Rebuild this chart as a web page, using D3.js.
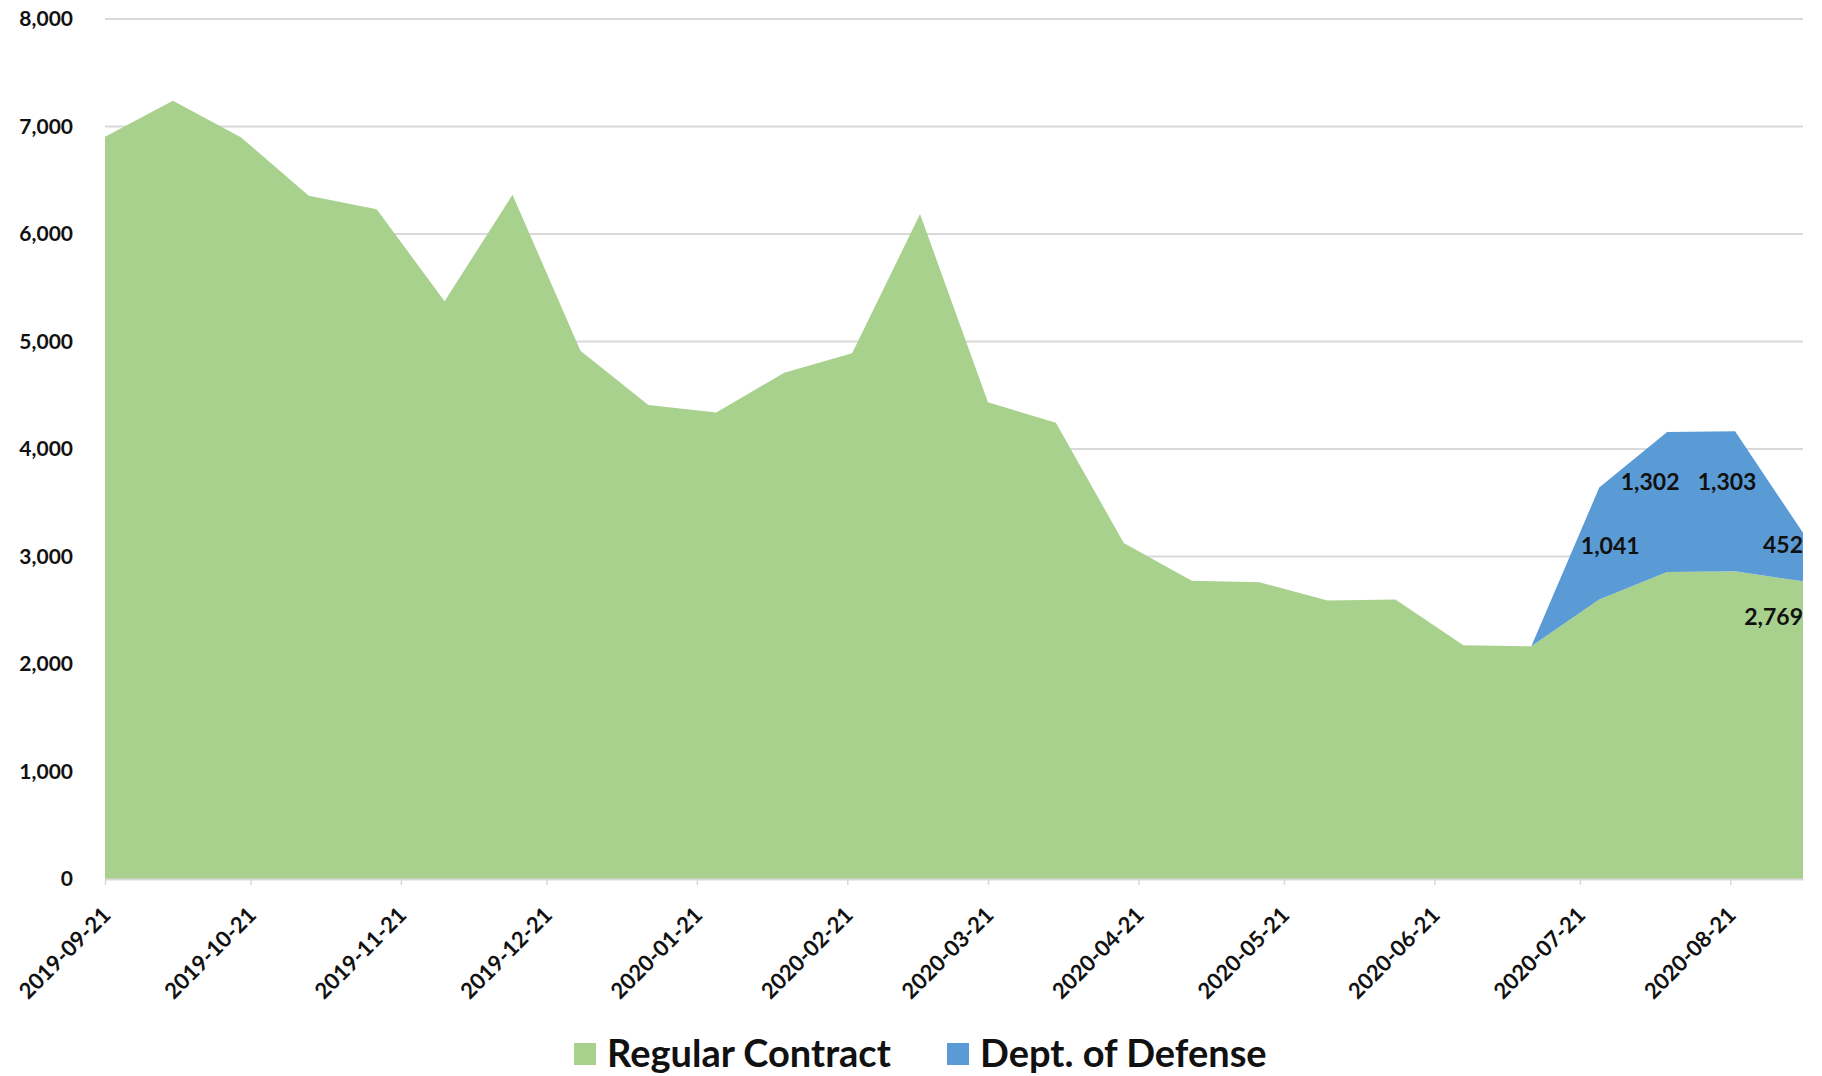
<!DOCTYPE html>
<html>
<head>
<meta charset="utf-8">
<script src="https://cdn.jsdelivr.net/npm/d3@7"></script>
<style>
  html, body { margin: 0; padding: 0; background: #ffffff; }
  svg { display: block; font-family: Lato, "Open Sans", sans-serif; }
</style>
</head>
<body>
<svg id="chart" width="1822" height="1076"></svg>
<script>
// Biweekly observation dates
const dates = [
  "2019-09-21", "2019-10-05", "2019-10-19", "2019-11-02", "2019-11-16", "2019-11-30",
  "2019-12-14", "2019-12-28", "2020-01-11", "2020-01-25", "2020-02-08", "2020-02-22",
  "2020-03-07", "2020-03-21", "2020-04-04", "2020-04-18", "2020-05-02", "2020-05-16",
  "2020-05-30", "2020-06-13", "2020-06-27", "2020-07-11", "2020-07-25", "2020-08-08",
  "2020-08-22", "2020-09-05"
];

// Series values
const regularContract = [
  6905, 7240, 6900, 6355, 6230, 5375, 6365, 4915, 4410, 4340, 4710, 4890,
  6185, 4435, 4245, 3125, 2775, 2760, 2590, 2600, 2175, 2165, 2600, 2855,
  2862, 2769
];
const deptOfDefense = [
  0, 0, 0, 0, 0, 0, 0, 0, 0, 0, 0, 0,
  0, 0, 0, 0, 0, 0, 0, 0, 0, 0, 1041, 1302,
  1303, 452
];

const seriesNames = ["Regular Contract", "Dept. of Defense"];
const seriesColors = ["#a9d18e", "#5b9bd5"];

// Axis ticks
const xTickLabels = [
  "2019-09-21", "2019-10-21", "2019-11-21", "2019-12-21", "2020-01-21", "2020-02-21",
  "2020-03-21", "2020-04-21", "2020-05-21", "2020-06-21", "2020-07-21", "2020-08-21"
];
const yTickValues = [0, 1000, 2000, 3000, 4000, 5000, 6000, 7000, 8000];

// Which points carry a value label (series index, point index)
const labelledPoints = [
  { s: 1, i: 22 }, { s: 1, i: 23 }, { s: 1, i: 24 }, { s: 1, i: 25 }, { s: 0, i: 25 }
];
// Label placement relative to the top of the band at that point
const labelPlacement = [
  { dx: 11, dy: 58, anchor: "middle" },
  { dx: -17, dy: 50, anchor: "middle" },
  { dx: -8, dy: 51, anchor: "middle" },
  { dx: 0, dy: 12, anchor: "end" },
  { dx: 0, dy: 36, anchor: "end" }
];

const parse = d3.utcParse("%Y-%m-%d");
const fmt = d3.format(",");

const margin = { left: 105, right: 19, top: 19, bottom: 197 };
const W = 1822, H = 1076;
const svg = d3.select("#chart");

const rows = dates.map((d, i) => ({
  date: parse(d),
  "Regular Contract": regularContract[i],
  "Dept. of Defense": deptOfDefense[i]
}));

const x = d3.scaleUtc()
  .domain(d3.extent(rows, r => r.date))
  .range([margin.left, W - margin.right]);
const y = d3.scaleLinear()
  .domain([0, 8000])
  .range([H - margin.bottom, margin.top]);

const stacked = d3.stack().keys(seriesNames)(rows);

// Gridlines
svg.append("g")
  .selectAll("line")
  .data(yTickValues.filter(v => v > 0))
  .join("line")
  .attr("x1", x.range()[0])
  .attr("x2", x.range()[1])
  .attr("y1", d => y(d))
  .attr("y2", d => y(d))
  .attr("stroke", "#d9d9d9")
  .attr("stroke-width", 2);

// Stacked areas
const area = d3.area()
  .x(d => x(d.data.date))
  .y0(d => y(d[0]))
  .y1(d => y(d[1]));

svg.append("g")
  .selectAll("path")
  .data(stacked)
  .join("path")
  .attr("d", area)
  .attr("fill", (d, i) => seriesColors[i]);

// X axis
const xAxis = d3.axisBottom(x)
  .tickValues(xTickLabels.map(parse))
  .tickFormat(d3.utcFormat("%Y-%m-%d"))
  .tickSize(6)
  .tickSizeOuter(0);

const gx = svg.append("g")
  .attr("transform", `translate(0,${y(0)})`)
  .call(xAxis);
gx.select(".domain").attr("stroke", "#d9d9d9").attr("stroke-width", 2);
gx.selectAll(".tick line").attr("stroke", "#d9d9d9").attr("stroke-width", 1.5);
gx.selectAll(".tick text")
  .attr("font-family", "Lato, sans-serif")
  .attr("font-weight", "bold")
  .attr("font-size", 22)
  .attr("fill", "#111")
  .attr("text-anchor", "end")
  .attr("dy", "0.35em")
  .attr("transform", "translate(1,32) rotate(-45)")
  .attr("x", 0)
  .attr("y", 0);

// Y axis
const yAxis = d3.axisLeft(y)
  .tickValues(yTickValues)
  .tickFormat(fmt)
  .tickSize(0)
  .tickPadding(32);
const gy = svg.append("g")
  .attr("transform", `translate(${margin.left},0)`)
  .call(yAxis);
gy.select(".domain").remove();
gy.selectAll(".tick text")
  .attr("font-family", "Lato, sans-serif")
  .attr("font-weight", "bold")
  .attr("font-size", 21)
  .attr("fill", "#111");

// Value labels
svg.append("g")
  .selectAll("text")
  .data(labelledPoints)
  .join("text")
  .attr("x", (p, k) => x(rows[p.i].date) + labelPlacement[k].dx)
  .attr("y", (p, k) => y(stacked[p.s][p.i][1]) + labelPlacement[k].dy)
  .attr("dy", "0.35em")
  .attr("text-anchor", (p, k) => labelPlacement[k].anchor)
  .attr("font-family", "Lato, sans-serif")
  .attr("font-weight", "bold")
  .attr("font-size", 23)
  .attr("fill", "#111")
  .text(p => fmt(p.s === 0 ? regularContract[p.i] : deptOfDefense[p.i]));

// Legend
const legendX = [574, 947];
const legend = svg.append("g")
  .selectAll("g")
  .data(seriesNames)
  .join("g")
  .attr("transform", (d, i) => `translate(${legendX[i]},1054)`);
legend.append("rect")
  .attr("x", 0).attr("y", -11)
  .attr("width", 22).attr("height", 22)
  .attr("fill", (d, i) => seriesColors[i]);
legend.append("text")
  .attr("x", 33)
  .attr("dy", "0.35em")
  .attr("font-family", "Lato, sans-serif")
  .attr("font-weight", "bold")
  .attr("font-size", 38)
  .attr("fill", "#111")
  .text(d => d);
</script>
</body>
</html>
